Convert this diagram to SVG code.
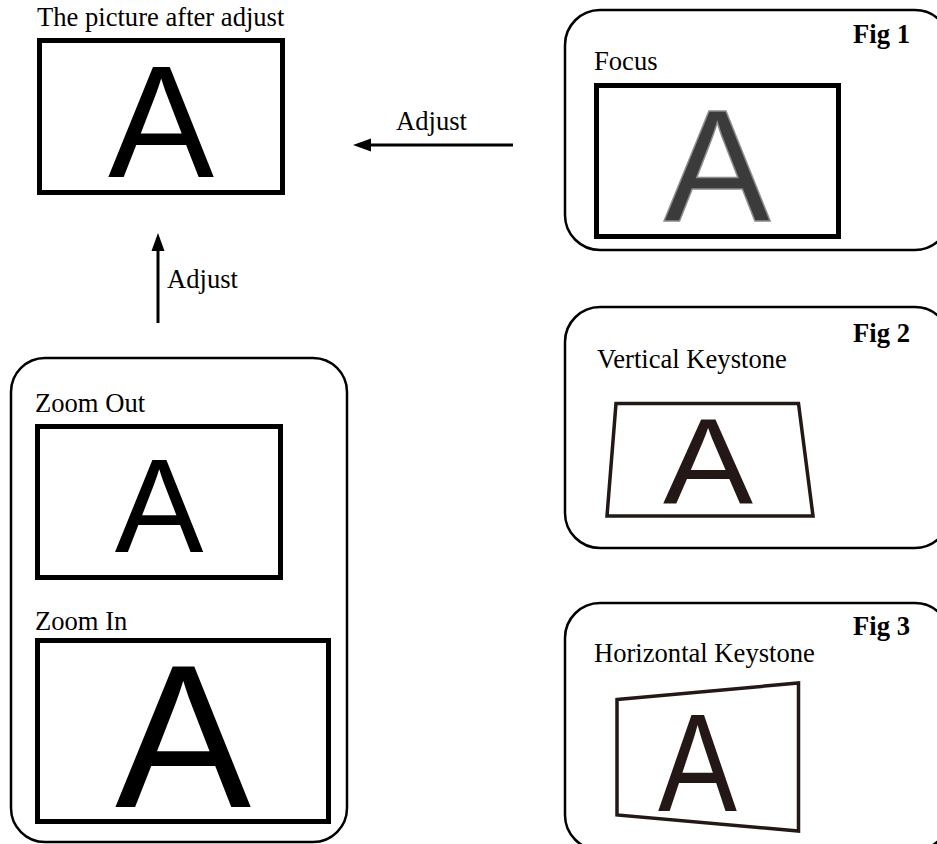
<svg xmlns="http://www.w3.org/2000/svg" width="937" height="844" viewBox="0 0 937 844">
<style>
.lbl{font-family:"Liberation Serif","Times New Roman",serif;font-size:26.6px;fill:#000}
.fig{font-family:"Liberation Serif","Times New Roman",serif;font-size:26.6px;font-weight:bold;fill:#000;text-anchor:end}
.big{font-family:"Liberation Sans",Arial,sans-serif;fill:#000;text-anchor:middle}
.frame{fill:none;stroke:#000;stroke-width:2.5}
.screen{fill:#fff;stroke:#000;stroke-width:5}
.ks{fill:#fff;stroke:#231815;stroke-width:3.5;stroke-linejoin:miter}
.conn{stroke:#000;stroke-width:3;fill:none}
</style>
<defs>
<marker id="ah" markerUnits="userSpaceOnUse" markerWidth="20" markerHeight="14" viewBox="0 -7 20 14" refX="0" refY="0" orient="auto">
<path d="M0,-6.5 L18,0 L0,6.5 Z" fill="#000"/>
</marker>
</defs>
<rect width="937" height="844" fill="#fff"/>

<g id="result">
<text class="lbl" x="37" y="26">The picture after adjust</text>
<rect class="screen" x="39.5" y="40.5" width="243" height="152"/>
<text class="big" x="161" y="177" font-size="159">A</text>
</g>

<g id="fig1">
<rect class="frame" x="565" y="10" width="385" height="240" rx="35" ry="35"/>
<text class="fig" x="910" y="43">Fig 1</text>
<text class="lbl" x="594" y="70">Focus</text>
<rect class="screen" x="596.5" y="85.5" width="242" height="151"/>
<text class="big" x="717" y="221" font-size="160" style="fill:#3b3b3b;stroke:#8c8c8c;stroke-width:1.5">A</text>
</g>

<g id="fig2">
<rect class="frame" x="565" y="307" width="385" height="241" rx="35" ry="35"/>
<text class="fig" x="910" y="342">Fig 2</text>
<text class="lbl" x="597" y="368">Vertical Keystone</text>
<polygon class="ks" points="616,403.5 798.5,403.5 813,516 607,516"/>
<text class="big" x="708" y="504" font-size="122" textLength="90" lengthAdjust="spacingAndGlyphs" style="fill:#231815">A</text>
</g>

<g id="fig3">
<rect class="frame" x="565" y="603" width="385" height="247" rx="35" ry="35"/>
<text class="fig" x="910" y="635">Fig 3</text>
<text class="lbl" x="594" y="662">Horizontal Keystone</text>
<polygon class="ks" points="617,699.5 798.5,683 798.5,831 617,815"/>
<text class="big" x="697.5" y="811" font-size="140" textLength="79" lengthAdjust="spacingAndGlyphs" style="fill:#231815">A</text>
</g>

<g id="zoom">
<rect class="frame" x="11" y="358" width="336" height="484" rx="34" ry="34"/>
<text class="lbl" x="35" y="412">Zoom Out</text>
<rect class="screen" x="37.5" y="426.5" width="243" height="151"/>
<text class="big" x="159" y="552" font-size="133">A</text>
<text class="lbl" x="35" y="630">Zoom In</text>
<rect class="screen" x="37.5" y="640.5" width="291" height="181"/>
<text class="big" x="183" y="807" font-size="204">A</text>
</g>

<g id="connectors">
<line class="conn" x1="513" y1="145" x2="371" y2="145" marker-end="url(#ah)"/>
<text class="lbl" x="396" y="130">Adjust</text>
<line class="conn" x1="158" y1="323" x2="158" y2="251" marker-end="url(#ah)"/>
<text class="lbl" x="167" y="288">Adjust</text>
</g>
</svg>
